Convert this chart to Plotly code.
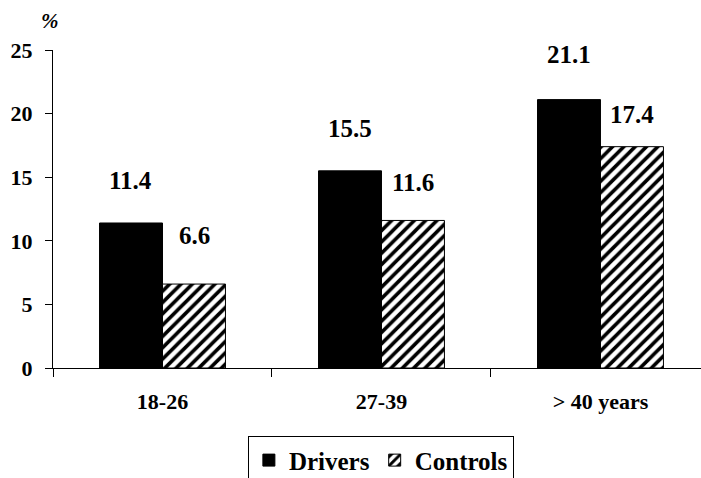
import plotly.graph_objects as go

categories = ["18-26", "27-39", "> 40 years"]
drivers = [11.4, 15.5, 21.1]
controls = [6.6, 11.6, 17.4]
y_ticks = [0, 5, 10, 15, 20, 25]

FONT = "Liberation Serif"

fig = go.Figure()
fig.add_trace(go.Bar(
    name="<b>Drivers</b>", x=categories, y=drivers,
    marker=dict(color="black", line=dict(color="black", width=1)),
))
fig.add_trace(go.Bar(
    name="<b>Controls</b>", x=categories, y=controls,
    marker=dict(color="white", line=dict(color="black", width=1),
                pattern=dict(shape="/", fgcolor="black", bgcolor="white",
                             size=8, solidity=0.45)),
))

# value labels
drv_shift = [42, 42, 45]
ctl_shift = [49, 38, 32]
half = 0.144
for i, (d, c) in enumerate(zip(drivers, controls)):
    fig.add_annotation(x=i - half, y=d, text=f"<b>{d}</b>", showarrow=False,
                       yanchor="middle", yshift=drv_shift[i],
                       font=dict(family=FONT, size=25, color="black"))
    fig.add_annotation(x=i + half, y=c, text=f"<b>{c}</b>", showarrow=False,
                       yanchor="middle", yshift=ctl_shift[i],
                       font=dict(family=FONT, size=25, color="black"))

fig.add_annotation(xref="paper", yref="paper", x=-0.005, y=1.091,
                   xanchor="center", yanchor="middle",
                   text="<b><i>%</i></b>", showarrow=False,
                   font=dict(family=FONT, size=21, color="black"))

# regular-weight serif texts, white on white, so the serif faces are loaded
preload = ["Liberation Serif", "DejaVu Serif", "serif", "Times New Roman", "Tinos", "Times"]
for k, fam in enumerate(preload):
    fig.add_annotation(xref="paper", yref="paper", x=-0.07, y=-0.26 - k * 0.035,
                       xanchor="left", yanchor="middle",
                       text="Rg 12", showarrow=False,
                       font=dict(family=fam, size=9, color="white"))

fig.update_layout(
    template="none",
    width=701, height=478,
    margin=dict(l=53, r=0, t=50, b=110, autoexpand=False),
    paper_bgcolor="white", plot_bgcolor="white",
    barmode="group", bargap=0.425, bargroupgap=0,
    font=dict(family=FONT, color="black"),
    showlegend=True,
    legend=dict(orientation="h", x=0.506, xanchor="center",
                y=-0.215, yanchor="top",
                bordercolor="black", borderwidth=1, bgcolor="white",
                font=dict(family=FONT, size=25, color="black"),
                itemwidth=30, tracegroupgap=0),
    xaxis=dict(range=[-0.5, 2.459], showline=True, linecolor="black",
               linewidth=1, ticks="outside", tickson="boundaries",
               ticklen=8, tickcolor="black", showgrid=False, automargin=False,
               tickfont=dict(family=FONT, size=22, color="black"),
               ticklabelstandoff=14,
               tickvals=categories,
               ticktext=[f"<b>{c}</b>" for c in categories]),
    yaxis=dict(range=[0, 25], tickvals=y_ticks,
               ticktext=[f"<b>{t}</b>" for t in y_ticks],
               showline=True, linecolor="black", linewidth=1,
               ticks="outside", ticklen=7, tickcolor="black",
               showgrid=False, zeroline=False, automargin=False,
               tickfont=dict(family=FONT, size=22, color="black"),
               ticklabelstandoff=8),
)

fig.write_html("out.html", config={"displayModeBar": False},
               post_script="document.body.style.margin='0';document.body.style.padding='0';")
